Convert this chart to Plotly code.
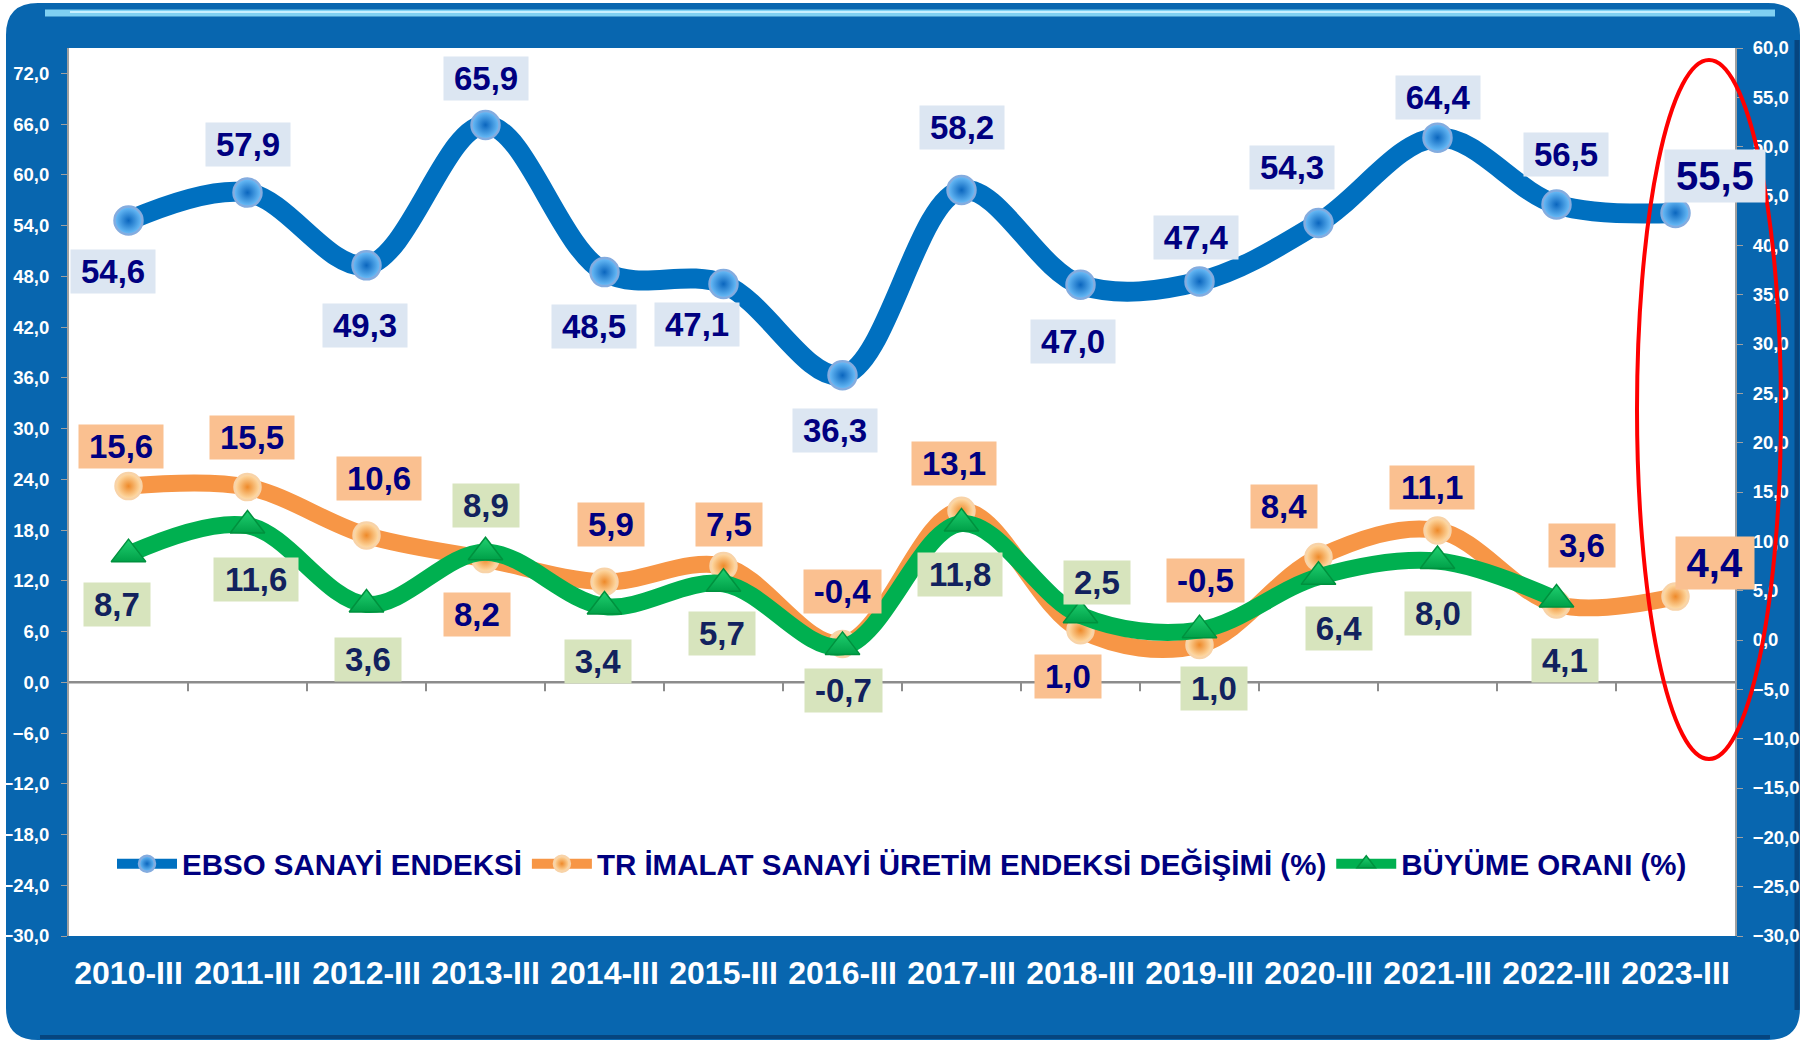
import plotly.graph_objects as go

# ---------------- data ----------------
categories = ["2010-III", "2011-III", "2012-III", "2013-III", "2014-III", "2015-III", "2016-III",
              "2017-III", "2018-III", "2019-III", "2020-III", "2021-III", "2022-III", "2023-III"]
ebso = [54.6, 57.9, 49.3, 65.9, 48.5, 47.1, 36.3, 58.2, 47.0, 47.4, 54.3, 64.4, 56.5, 55.5]
tr_imalat = [15.6, 15.5, 10.6, 8.2, 5.9, 7.5, -0.4, 13.1, 1.0, -0.5, 8.4, 11.1, 3.6, 4.4]
buyume = [8.7, 11.6, 3.6, 8.9, 3.4, 5.7, -0.7, 11.8, 2.5, 1.0, 6.4, 8.0, 4.1, None]

series_names = ["EBSO SANAYİ ENDEKSİ", "TR İMALAT SANAYİ ÜRETİM ENDEKSİ DEĞİŞİMİ (%)", "BÜYÜME ORANI (%)"]

# label offsets in screen pixels (dx, dy: positive dy = downward)
ebso_off = [(-16, 51), (0, -48), (-2, 60), (0, -46), (-11, 54), (-27, 41), (-8, 55),
            (0, -63), (-8, 57), (-4, -44), (-27, -56), (0, -40), (9, -50), (39, -37)]
tr_off = [(-8, -40), (4, -50), (12, -57), (-9, 55), (6, -57), (5, -42), (0, -52),
          (-8, -47), (-13, 46), (6, -64), (-35, -51), (-6, -43), (25, -59), (39, -34)]
bu_off = [(-12, 50), (8, 54), (1, 55), (0, -47), (-7, 55), (-2, 50), (1, 44),
          (-2, 51), (16, -33), (14, 58), (20, 52), (0, 52), (8, 61), None]

# ---------------- geometry ----------------
W, H = 1808, 1044
PL, PR, PT, PB = 69, 1735, 48, 936


def px(x):
    return (x - PL) / (PR - PL)


def py(y):
    return (PB - y) / (PB - PT)


FONT = "Liberation Sans, Arial, sans-serif"
NAVY = "#000080"

fig = go.Figure()

fig.add_trace(go.Scatter(
    x=categories, y=ebso, name=series_names[0], yaxis="y",
    mode="lines+markers", line=dict(color="#0070C0", width=20, shape="spline", smoothing=1.0),
    marker=dict(symbol="circle", size=28, color="#6EC0FA",
                gradient=dict(type="radial", color="#0B66BE"),
                line=dict(color="#84ACDF", width=2.5)),
))
fig.add_trace(go.Scatter(
    x=categories, y=tr_imalat, name=series_names[1], yaxis="y2",
    mode="lines+markers", line=dict(color="#F79646", width=17, shape="spline", smoothing=1.0),
    marker=dict(symbol="circle", size=26, color="#FFE0AE",
                gradient=dict(type="radial", color="#EE8A2A"),
                line=dict(color="#F8D3A8", width=2.5)),
))
fig.add_trace(go.Scatter(
    x=categories, y=buyume, name=series_names[2], yaxis="y2",
    mode="lines+markers", line=dict(color="#00B050", width=17, shape="spline", smoothing=1.0),
    marker=dict(symbol="triangle-up", size=30, color="#20D070",
                gradient=dict(type="vertical", color="#00A048"),
                line=dict(color="#00913E", width=1.5)),
))


def fmt(v):
    return f"{v:.1f}".replace(".", ",")


CHW = {",": 0.278, "-": 0.333}


def text_w(s, size):
    return sum(CHW.get(c, 0.556) for c in s) * size


annotations = []
specs = [(ebso, ebso_off, "y", "#DCE6F2", NAVY), (tr_imalat, tr_off, "y2", "#FAC090", NAVY),
         (buyume, bu_off, "y2", "#D7E4BD", "#12225E")]
for vals, offs, yref, bg, tc in specs:
    for i, v in enumerate(vals):
        if v is None:
            continue
        dx, dy = offs[i]
        big = (i == len(categories) - 1)
        fs = 40 if big else 33
        t = fmt(v)
        annotations.append(dict(
            x=categories[i], y=v, xref="x", yref=yref, text=t, showarrow=False,
            xshift=dx, yshift=-dy, bgcolor=bg, borderpad=3 if not big else 4,
            width=text_w(t, fs) + 14, align="center",
            font=dict(family=FONT, size=fs, color=tc, weight="bold"),
        ))

shapes = []
# blue rounded frame with a hole for the plot area
x0, x1, y0, y1, r = px(6), px(1800), py(3), py(1040), 32
rx = r / (PR - PL)
ry = r / (PB - PT)
outer = (f"M {x0+rx},{y0} L {x1-rx},{y0} Q {x1},{y0} {x1},{y0-ry} "
         f"L {x1},{y1+ry} Q {x1},{y1} {x1-rx},{y1} L {x0+rx},{y1} Q {x0},{y1} {x0},{y1+ry} "
         f"L {x0},{y0-ry} Q {x0},{y0} {x0+rx},{y0} Z")
inner = "M 0,0 L 0,1 L 1,1 L 1,0 Z"
shapes.append(dict(type="path", xref="paper", yref="paper", path=outer + " " + inner,
                   fillcolor="#0866AF", line=dict(width=0), layer="below"))
# frame highlights / shading
shapes.append(dict(type="line", xref="paper", yref="paper", x0=px(45), x1=px(1775), y0=py(13), y1=py(13),
                   line=dict(color="#7FD0F2", width=7), layer="below"))
shapes.append(dict(type="line", xref="paper", yref="paper", x0=px(70), x1=px(1750), y0=py(12), y1=py(12),
                   line=dict(color="#C8F0FF", width=2), layer="below"))
shapes.append(dict(type="line", xref="paper", yref="paper", x0=px(1797), x1=px(1797), y0=py(40), y1=py(1010),
                   line=dict(color="#06457F", width=5), layer="below"))
shapes.append(dict(type="line", xref="paper", yref="paper", x0=px(40), x1=px(1770), y0=py(1037), y1=py(1037),
                   line=dict(color="#06457F", width=4), layer="below"))
# category axis at zero
shapes.append(dict(type="line", xref="x", yref="y", x0=-0.5, x1=len(categories) - 0.5, y0=0, y1=0,
                   line=dict(color="#8C8C8C", width=2.5)))
for k in range(len(categories) - 1):
    shapes.append(dict(type="line", xref="x", yref="y", ysizemode="pixel", yanchor=0,
                       x0=k + 0.5, x1=k + 0.5, y0=0, y1=-9, line=dict(color="#8C8C8C", width=2)))
# red ellipse
shapes.append(dict(type="circle", xref="paper", yref="paper", x0=px(1637), x1=px(1781),
                   y0=py(759), y1=py(60), line=dict(color="#FF0000", width=4), layer="above"))

tickfont = dict(family=FONT, size=18.5, color="white", weight="bold")

fig.update_layout(
    width=W, height=H, autosize=False,
    margin=dict(l=PL, r=W - PR, t=PT, b=H - PB, pad=0, autoexpand=False),
    paper_bgcolor="white", plot_bgcolor="white",
    separators=",.",
    showlegend=True,
    legend=dict(orientation="h", x=0.5, xanchor="center", y=py(864), yanchor="middle",
                bgcolor="rgba(0,0,0,0)", font=dict(family=FONT, size=29.5, color=NAVY, weight="bold"),
                traceorder="normal", itemsizing="trace", itemwidth=60),
    xaxis=dict(type="category", range=[-0.5, len(categories) - 0.5], showgrid=False, zeroline=False,
               showline=False, ticks="", tickfont=dict(family=FONT, size=32, color="white", weight="bold"),
               ticklabelstandoff=15, fixedrange=True, automargin=False),
    yaxis=dict(range=[-30, 75], tick0=-30, dtick=6, tickformat=".1f", showgrid=False, zeroline=False,
               showline=True, linecolor="#A0A0A0", linewidth=2, ticks="outside", ticklen=6,
               tickcolor="#A0A0A0", tickfont=tickfont, ticklabelstandoff=8, automargin=False),
    yaxis2=dict(range=[-30, 60], tick0=-30, dtick=5, tickformat=".1f", overlaying="y", side="right",
                showgrid=False, zeroline=False, showline=True, linecolor="#A0A0A0", linewidth=2,
                ticks="outside", ticklen=6, tickcolor="#A0A0A0", tickfont=tickfont, ticklabelstandoff=6,
                automargin=False),
    annotations=annotations,
    shapes=shapes,
)

fig.write_html("out.html", config={"displayModeBar": False},
               post_script="document.body.style.margin='0';document.body.style.overflow='hidden';")
